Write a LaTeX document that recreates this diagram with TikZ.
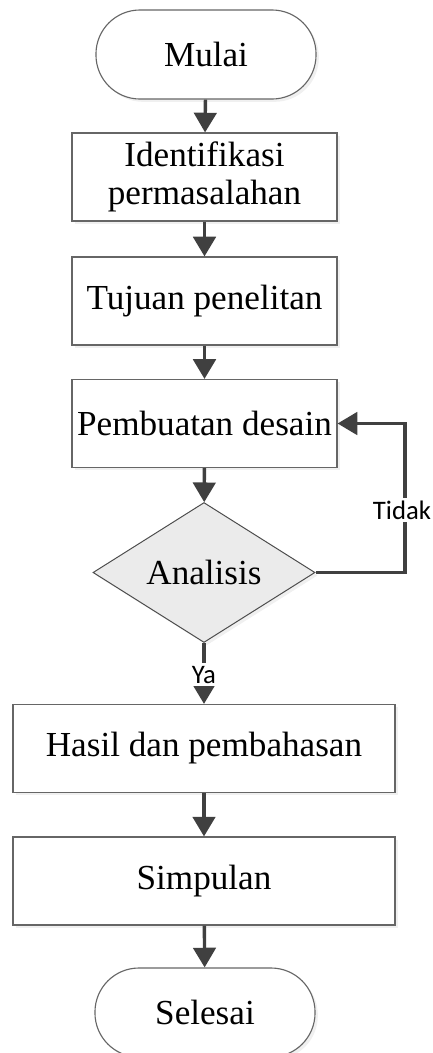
\documentclass[tikz,border=0pt]{standalone}
\usepackage{fontspec}
\setmainfont{Liberation Serif}
\newfontfamily\labelfont{Carlito}
\usetikzlibrary{shapes.geometric,arrows.meta,shadows}

\begin{document}
\begin{tikzpicture}[x=0.025cm,y=-0.025cm,
        shade/.style={drop shadow={opacity=0.12,shadow xshift=2pt,shadow yshift=-2pt}},
        box/.style={draw=black!60,line width=0.8pt,fill=white,shade,align=center,inner sep=0pt,
            minimum width=6.625cm,minimum height=2.2cm,font=\fontsize{25}{27}\selectfont},
        widebox/.style={box,minimum width=9.55cm},
        term/.style={box,rounded corners=1.1cm,minimum width=5.5cm,minimum height=2.225cm},
        decision/.style={diamond,draw=black!70,line width=0.7pt,fill=black!8,shade,inner sep=0pt,
            minimum width=5.55cm,minimum height=3.275cm,font=\fontsize{25}{27}\selectfont},
        flow/.style={draw=black!75,line width=2.4pt,-{Triangle[width=16pt,length=14pt]}},
        lbl/.style={fill=white,inner sep=2pt,font=\labelfont\fontsize{19}{19}\selectfont}]
        \useasboundingbox (0,0) rectangle (433,1053);
        \node[term] (mulai) at (206,54.5) {Mulai};
        \node[box] (identifikasi) at (204.5,177) {Identifikasi\\permasalahan};
        \node[box] (tujuan) at (204.5,301) {Tujuan penelitan};
        \node[box] (desain) at (204.5,423.5) {Pembuatan desain};
        \node[decision] (analisis) at (204,572.5) {Analisis};
        \node[widebox] (hasil) at (204,748.5) {Hasil dan pembahasan};
        \node[widebox] (simpulan) at (204,881) {Simpulan};
        \node[term] (selesai) at (205,1012.5) {Selesai};
        \coordinate (balik) at (405,423.5);
        \draw[flow] (mulai) -- (identifikasi);
        \draw[flow] (identifikasi) -- (tujuan);
        \draw[flow] (tujuan) -- (desain);
        \draw[flow] (desain) -- (analisis);
        \draw[flow] (analisis.east) -| (balik) -- (desain.east);
        \node[lbl] (tidak) at (402,510) {Tidak};
        \draw[flow] (analisis.south) -- (hasil.north) node[lbl,pos=0.52] (ya) {Ya};
        \draw[flow] (hasil) -- (simpulan);
        \draw[flow] (simpulan) -- (selesai);
\end{tikzpicture}
\end{document}
